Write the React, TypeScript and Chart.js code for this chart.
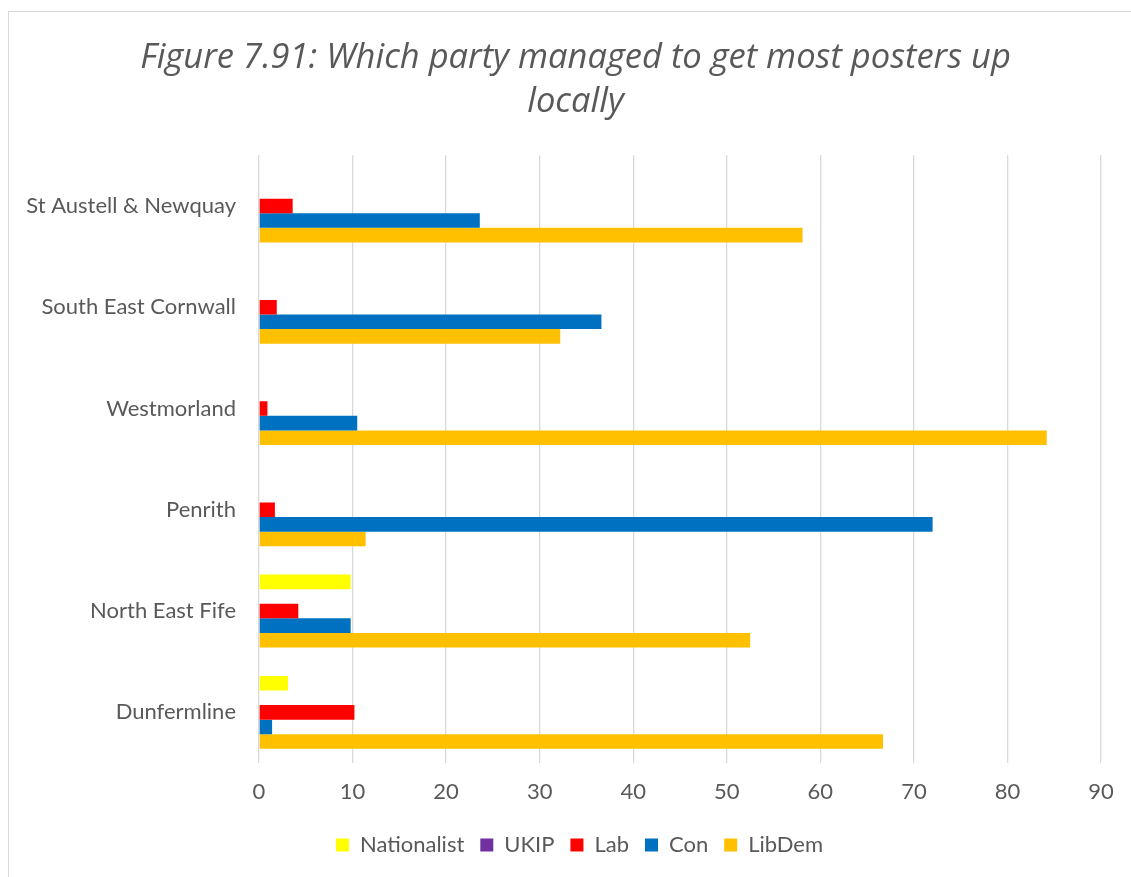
import React, { useEffect, useRef } from "react";
import { Chart, registerables } from "chart.js";

Chart.register(...registerables);

// Constituencies, listed top to bottom
const constituencies = [
  "St Austell & Newquay",
  "South East Cornwall",
  "Westmorland",
  "Penrith",
  "North East Fife",
  "Dunfermline",
];

// Share of respondents (%) naming each party
const nationalist = [0, 0, 0, 0, 9.8, 3.1];
const ukip = [0, 0, 0, 0, 0, 0];
const lab = [3.6, 1.9, 0.9, 1.7, 4.2, 10.2];
const con = [23.6, 36.6, 10.5, 72.0, 9.8, 1.4];
const libdem = [58.1, 32.2, 84.2, 11.4, 52.5, 66.7];

const xTicks = [0, 10, 20, 30, 40, 50, 60, 70, 80, 90];

const titleLines = [
  "Figure 7.91: Which party managed to get most posters up",
  "locally",
];

const FONT = "Lato, 'Open Sans', sans-serif";
const TITLE_FONT = "'Open Sans', Lato, sans-serif";
const TEXT = "#595959";
const GRID = "#d9d9d9";

// Nudges the title and bottom legend sideways so they sit under the frame's centre
const centreShift = {
  id: "centreShift",
  afterLayout(chart: any) {
    const l = chart.legend;
    if (l) {
      l.left += 29;
      l.right += 29;
    }
    const t = chart.titleBlock;
    if (t) {
      t.left += 25;
      t.right += 25;
    }
  },
};

export default function App() {
  const canvasRef = useRef<HTMLCanvasElement | null>(null);

  useEffect(() => {
    const canvas = canvasRef.current;
    if (!canvas) return;

    const series = [
      { label: "Nationalist", data: nationalist, color: "#FFFF00" },
      { label: "UKIP", data: ukip, color: "#7030A0" },
      { label: "Lab", data: lab, color: "#FF0000" },
      { label: "Con", data: con, color: "#0070C0" },
      { label: "LibDem", data: libdem, color: "#FFC000" },
    ];

    const chart = new Chart(canvas, {
      type: "bar",
      data: {
        labels: constituencies,
        datasets: series.map((s) => ({
          label: s.label,
          data: s.data,
          backgroundColor: s.color,
          borderWidth: 0,
          categoryPercentage: 0.72,
          barPercentage: 1,
        })),
      },
      options: {
        indexAxis: "y",
        responsive: false,
        animation: false,
        maintainAspectRatio: false,
        layout: { padding: { left: 0, right: 30, top: 0, bottom: 11 } },
        scales: {
          x: {
            min: xTicks[0],
            max: xTicks[xTicks.length - 1],
            afterBuildTicks: (scale: any) => {
              scale.ticks = xTicks.map((v) => ({ value: v }));
            },
            afterFit: (scale: any) => {
              scale.height = 55;
              scale.paddingLeft = 0;
              scale.paddingRight = 0;
            },
            grid: { color: GRID, lineWidth: 1.3, drawTicks: false },
            border: { display: false },
            ticks: {
              color: TEXT,
              padding: 16,
              font: { family: FONT, size: 22 },
            },
          },
          y: {
            grid: { display: false, drawTicks: false },
            border: { display: false },
            afterFit: (scale: any) => {
              scale.width = 259;
            },
            ticks: {
              color: TEXT,
              padding: 23,
              font: { family: FONT, size: 22 },
            },
          },
        },
        plugins: {
          title: {
            display: true,
            text: titleLines,
            color: TEXT,
            font: {
              family: TITLE_FONT,
              size: 34.5,
              style: "italic",
              weight: "normal",
              lineHeight: 1.28,
            },
            padding: { top: 36, bottom: 31 },
          },
          legend: {
            position: "bottom",
            labels: {
              color: TEXT,
              boxWidth: 13,
              boxHeight: 13,
              padding: 16,
              font: { family: FONT, size: 22 },
            },
          },
          tooltip: { enabled: false },
        },
      },
      plugins: [centreShift],
    });

    return () => chart.destroy();
  }, []);

  return (
    <div
      style={{
        position: "absolute",
        left: 0,
        top: 0,
        width: 1131,
        height: 877,
        overflow: "hidden",
        background: "#ffffff",
      }}
    >
      <div
        style={{
          position: "absolute",
          left: 8,
          top: 11,
          width: 1200,
          height: 1000,
          border: `1px solid ${GRID}`,
          boxSizing: "border-box",
        }}
      />
      <canvas
        ref={canvasRef}
        width={1131}
        height={877}
        style={{ position: "absolute", left: 0, top: 0, width: 1131, height: 877 }}
      />
    </div>
  );
}
